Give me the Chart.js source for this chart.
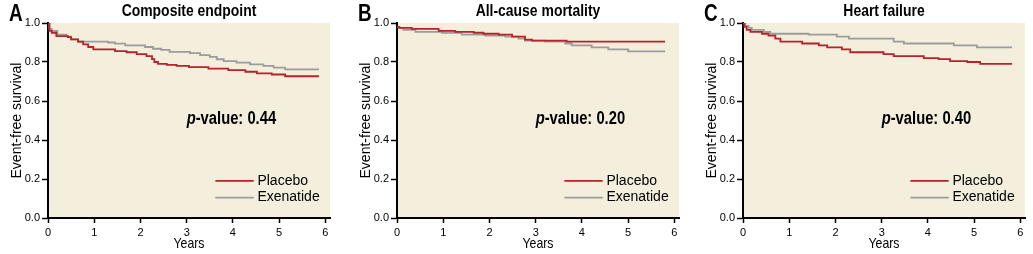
<!DOCTYPE html>
<html>
<head>
<meta charset="utf-8">
<script src="https://cdn.jsdelivr.net/npm/chart.js@4"></script>
<style>
  html, body { margin: 0; padding: 0; background: #ffffff; overflow: hidden; }
  body { width: 1033px; height: 254px; position: relative; }
  canvas { position: absolute; top: 0; }
</style>
</head>
<body>
<canvas id="panelA" width="346" height="254" style="left:-8px"></canvas>
<canvas id="panelB" width="346" height="254" style="left:341px"></canvas>
<canvas id="panelC" width="346" height="254" style="left:687px"></canvas>
<script>
// ---------- data ----------
const xTicks = [0, 1, 2, 3, 4, 5, 6];
const yTicks = [0, 0.2, 0.4, 0.6, 0.8, 1.0];
const seriesNames = ['Placebo', 'Exenatide'];
const panelLetters = ['A', 'B', 'C'];
const panelTitles = ['Composite endpoint', 'All-cause mortality', 'Heart failure'];
const pValues = ['0.44', '0.20', '0.40'];

// Composite endpoint
const compositePlaceboYears    = [0, 0.03, 0.08, 0.18, 0.43, 0.5, 0.65, 0.76, 0.87, 0.98, 1.45, 1.7, 1.92, 2.13, 2.25, 2.3, 2.38, 2.57, 2.78, 3.05, 3.47, 3.9, 4.27, 4.52, 4.84, 5.13, 5.86];
const compositePlaceboSurv     = [1.0, 0.96, 0.95, 0.933, 0.928, 0.916, 0.904, 0.89, 0.877, 0.865, 0.856, 0.85, 0.84, 0.83, 0.815, 0.80, 0.79, 0.785, 0.78, 0.774, 0.766, 0.758, 0.75, 0.742, 0.736, 0.727, 0.727];
const compositeExenatideYears  = [0, 0.03, 0.08, 0.2, 0.4, 0.5, 0.65, 1.3, 1.45, 1.67, 2.1, 2.27, 2.45, 2.63, 3.07, 3.29, 3.5, 3.65, 3.8, 4.08, 4.37, 4.66, 4.88, 5.13, 5.86];
const compositeExenatideSurv   = [1.0, 0.97, 0.96, 0.94, 0.93, 0.916, 0.905, 0.9, 0.894, 0.885, 0.877, 0.868, 0.862, 0.852, 0.846, 0.835, 0.826, 0.814, 0.805, 0.797, 0.788, 0.78, 0.771, 0.762, 0.762];

// All-cause mortality
const mortalityPlaceboYears    = [0, 0.05, 0.32, 0.9, 1.26, 1.66, 1.87, 2.2, 2.49, 2.77, 2.92, 3.67, 5.8];
const mortalityPlaceboSurv     = [0.98, 0.975, 0.97, 0.96, 0.955, 0.95, 0.945, 0.94, 0.93, 0.915, 0.91, 0.905, 0.905];
const mortalityExenatideYears  = [0, 0.05, 0.14, 0.4, 0.97, 1.4, 1.91, 2.34, 2.63, 2.77, 3.2, 3.64, 3.78, 4.21, 4.57, 5.0, 5.8];
const mortalityExenatideSurv   = [0.98, 0.975, 0.965, 0.955, 0.95, 0.94, 0.935, 0.93, 0.92, 0.91, 0.905, 0.895, 0.885, 0.875, 0.865, 0.855, 0.855];

// Heart failure
const heartPlaceboYears        = [0, 0.03, 0.08, 0.16, 0.41, 0.55, 0.7, 0.81, 1.28, 1.64, 1.82, 2.14, 2.32, 3.04, 3.26, 3.91, 4.23, 4.48, 4.85, 5.13, 5.82];
const heartPlaceboSurv         = [1.0, 0.98, 0.965, 0.955, 0.945, 0.935, 0.92, 0.905, 0.895, 0.885, 0.875, 0.865, 0.85, 0.84, 0.83, 0.82, 0.815, 0.805, 0.80, 0.79, 0.79];
const heartExenatideYears      = [0, 0.05, 0.12, 0.19, 0.45, 0.59, 1.42, 2.03, 2.29, 3.26, 3.48, 4.56, 5.06, 5.82];
const heartExenatideSurv       = [1.0, 0.985, 0.975, 0.965, 0.955, 0.945, 0.94, 0.93, 0.92, 0.905, 0.895, 0.885, 0.875, 0.875];

// ---------- styling ----------
const REGULAR = '"Liberation Sans", Arial, Helvetica, sans-serif';
const BG = '#f3efdc';
const RED = '#b8222b';
const GREY = '#9c9c9c';
const NARROW_SCALE = 0.82; // emulate a condensed face by horizontal scaling

function pts(xs, ys) { return xs.map((x, i) => ({ x: x, y: ys[i] })); }

function narrowText(ctx, text, x, y, font, align, baseline) {
  ctx.save();
  ctx.font = font;
  ctx.textAlign = align;
  ctx.textBaseline = baseline;
  ctx.translate(x, y);
  ctx.scale(NARROW_SCALE, 1);
  ctx.fillText(text, 0, 0);
  const w = ctx.measureText(text).width * NARROW_SCALE;
  ctx.restore();
  return w;
}

const decor = {
  id: 'decor',
  beforeDraw(chart) {
    const { ctx, chartArea: a } = chart;
    ctx.save();
    ctx.fillStyle = BG;
    ctx.fillRect(a.left, a.top, a.right - a.left, a.bottom - a.top);
    ctx.restore();
  },
  afterDraw(chart, args, opts) {
    const { ctx, chartArea: a } = chart;
    const xs = chart.scales.x, ys = chart.scales.y;
    ctx.save();
    ctx.fillStyle = '#000';
    // panel letter
    narrowText(ctx, opts.letter, a.left - 39, 21, 'bold 23px ' + REGULAR, 'left', 'alphabetic');
    // title
    narrowText(ctx, opts.title, (a.left + a.right) / 2, 16, 'bold 17px ' + REGULAR, 'center', 'alphabetic');
    // x axis title
    narrowText(ctx, opts.xTitle, (a.left + a.right) / 2, 248, '15px ' + REGULAR, 'center', 'alphabetic');
    // p-value
    const px = xs.getPixelForValue(3.0), py = ys.getPixelForValue(0.51);
    const pw = narrowText(ctx, 'p', px, py, 'italic bold 18px ' + REGULAR, 'left', 'middle');
    narrowText(ctx, '-value: ' + opts.pValue, px + pw, py, 'bold 18px ' + REGULAR, 'left', 'middle');
    // legend
    const legendY = [0.19, 0.105];
    chart.data.datasets.forEach((ds, i) => {
      const y = ys.getPixelForValue(legendY[i]);
      ctx.strokeStyle = ds.borderColor;
      ctx.lineWidth = 1.8;
      ctx.beginPath();
      ctx.moveTo(xs.getPixelForValue(3.62), y);
      ctx.lineTo(xs.getPixelForValue(4.45), y);
      ctx.stroke();
      ctx.fillStyle = '#000';
      ctx.font = '14px ' + REGULAR;
      ctx.textAlign = 'left';
      ctx.textBaseline = 'middle';
      ctx.fillText(ds.label, xs.getPixelForValue(4.53), y);
    });
    ctx.restore();
  }
};

function makePanel(canvasId, idx, placebo, exenatide) {
  return new Chart(document.getElementById(canvasId), {
    type: 'line',
    data: {
      datasets: [
        { label: seriesNames[0], data: placebo, borderColor: RED, borderWidth: 1.8, stepped: 'before', pointRadius: 0, fill: false },
        { label: seriesNames[1], data: exenatide, borderColor: GREY, borderWidth: 1.8, stepped: 'before', pointRadius: 0, fill: false }
      ]
    },
    options: {
      responsive: false,
      animation: false,
      events: [],
      layout: { padding: { top: 23, right: 8, left: 0, bottom: 0 } },
      scales: {
        x: {
          type: 'linear', min: 0, max: 6.1,
          afterBuildTicks: s => { s.ticks = xTicks.map(v => ({ value: v })); },
          afterFit: s => { s.height = 36; },
          grid: { drawOnChartArea: false, drawTicks: true, tickLength: 5, tickColor: '#000', tickWidth: 1.5 },
          border: { display: true, color: '#000', width: 2 },
          ticks: { color: '#000', padding: 3, font: { family: REGULAR, size: 11 }, callback: v => String(v), maxRotation: 0 },
          title: { display: false }
        },
        y: {
          type: 'linear', min: 0, max: 1,
          afterBuildTicks: s => { s.ticks = yTicks.map(v => ({ value: v })); },
          afterFit: s => { s.width = 56; },
          grid: { drawOnChartArea: false, drawTicks: true, tickLength: 6, tickColor: '#000', tickWidth: 1.5 },
          border: { display: true, color: '#000', width: 2 },
          ticks: { color: '#000', padding: 2, font: { family: REGULAR, size: 11 }, callback: v => Number(v).toFixed(1) },
          title: { display: true, text: 'Event-free survival', color: '#000', font: { family: REGULAR, size: 14 }, padding: { top: 17, bottom: 0 } }
        }
      },
      plugins: {
        legend: { display: false },
        tooltip: { enabled: false },
        decor: { letter: panelLetters[idx], title: panelTitles[idx], pValue: pValues[idx], xTitle: 'Years' }
      }
    },
    plugins: [decor]
  });
}

makePanel('panelA', 0, pts(compositePlaceboYears, compositePlaceboSurv), pts(compositeExenatideYears, compositeExenatideSurv));
makePanel('panelB', 1, pts(mortalityPlaceboYears, mortalityPlaceboSurv), pts(mortalityExenatideYears, mortalityExenatideSurv));
makePanel('panelC', 2, pts(heartPlaceboYears, heartPlaceboSurv), pts(heartExenatideYears, heartExenatideSurv));
</script>
</body>
</html>
